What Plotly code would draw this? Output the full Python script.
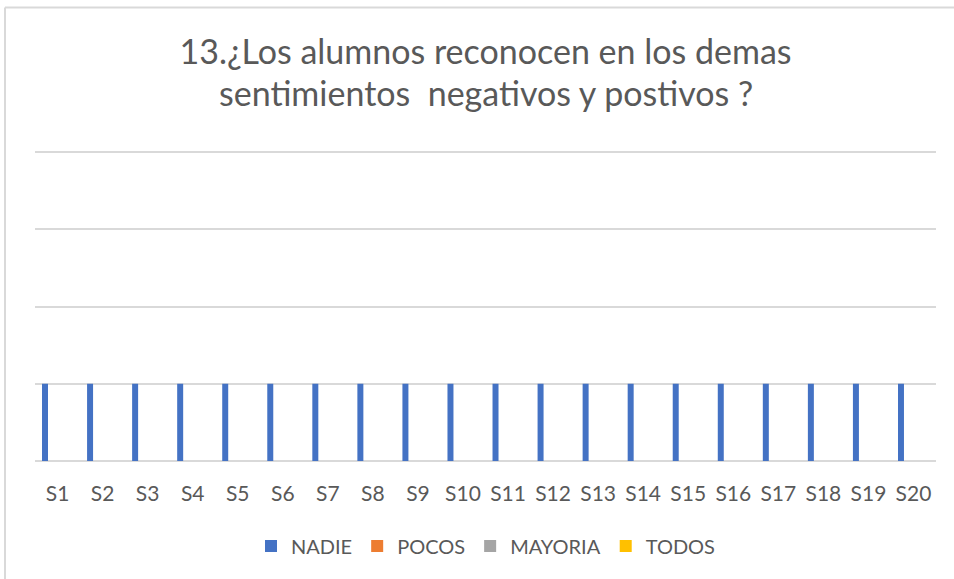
import plotly.graph_objects as go

categories = [f"S{i}" for i in range(1, 21)]
nadie = [1] * 20
pocos = [0] * 20
mayoria = [0] * 20
todos = [0] * 20

series_names = ["NADIE", "POCOS", "MAYORIA", "TODOS"]
series_values = [nadie, pocos, mayoria, todos]
series_colors = ["#4472C4", "#ED7D31", "#A5A5A5", "#FFC000"]

title_line1 = "13.¿Los alumnos reconocen en los demas"
title_line2 = "sentimientos  negativos y postivos ?"

W, H = 954, 579
L, R, T, B = 35, 18, 150, 118
pw, ph = W - L - R, H - T - B
y_top = 4 * ph / (461 - 152)

def px_x(x):
    return (x - L) / pw

def px_y(y):
    return (H - B - y) / ph

fig = go.Figure()
for name, vals, col in zip(series_names, series_values, series_colors):
    fig.add_trace(go.Bar(x=categories, y=vals, name=name, marker=dict(color=col, line=dict(width=0))))

text_color = "#595959"
grid_color = "#D9D9D9"

fig.update_layout(
    width=W, height=H,
    margin=dict(l=L, r=R, t=T, b=B, pad=0),
    paper_bgcolor="white", plot_bgcolor="white",
    barmode="group", bargap=0.26, bargroupgap=0.28,
    font=dict(family="Lato", color=text_color, size=20),
    title=dict(text=title_line1, x=0.5, xref="paper", xanchor="center",
               y=1 - 52 / H, yref="container", yanchor="middle",
               font=dict(family="Lato", size=34, color=text_color)),
    annotations=[
        dict(text=title_line2, x=0.5, xref="paper", xanchor="center",
             y=px_y(92), yref="paper", yanchor="middle", showarrow=False,
             font=dict(family="Lato", size=34, color=text_color)),
    ],
    showlegend=True,
    legend=dict(orientation="h", x=0.5, xanchor="center", xref="paper",
                y=px_y(546), yanchor="middle", font=dict(size=20, color=text_color),
                bgcolor="rgba(0,0,0,0)", itemclick=False),
    xaxis=dict(showline=False, ticks="", showgrid=False, zeroline=False,
               tickfont=dict(size=21, color=text_color), ticklabelstandoff=18),
    yaxis=dict(range=[0, y_top], tickvals=[0, 1, 2, 3, 4], showticklabels=False, ticks="",
               showgrid=True, gridcolor=grid_color, gridwidth=1.5,
               zeroline=True, zerolinecolor=grid_color, zerolinewidth=1.5,
               showline=False, fixedrange=True),
    shapes=[
        dict(type="line", xref="paper", yref="paper",
             x0=px_x(5), x1=px_x(5), y0=px_y(7.5), y1=px_y(579),
             line=dict(color=grid_color, width=2)),
        dict(type="line", xref="paper", yref="paper",
             x0=px_x(5), x1=px_x(954), y0=px_y(7.5), y1=px_y(7.5),
             line=dict(color=grid_color, width=2)),
    ],
)

fig.write_html("out.html", config={"displayModeBar": False},
               post_script="document.body.style.margin='0px';")
